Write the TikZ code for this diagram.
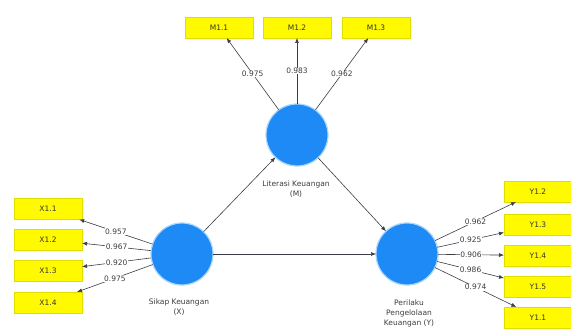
\documentclass[tikz,border=0pt]{standalone}
\usepackage{fontspec}
\setmainfont{DejaVu Sans}
\usetikzlibrary{arrows.meta,calc}
\definecolor{lvblue}{RGB}{30,138,245}
\definecolor{lvglow}{RGB}{170,215,255}
\definecolor{indyel}{RGB}{255,250,0}
\definecolor{indedge}{RGB}{225,220,0}
\definecolor{txtgray}{RGB}{60,60,60}
\definecolor{linegray}{RGB}{60,60,70}
\tikzset{
  latent/.style={circle,fill=lvblue,draw=lvglow,line width=1.2pt,minimum size=62pt,inner sep=0pt,outer sep=0pt},
  indbox/.style={rectangle,fill=indyel,draw=indedge,line width=0.5pt,minimum width=68pt,minimum height=21pt,inner sep=0pt,outer sep=0pt,font=\fontsize{7.5}{8}\selectfont,text=black!80},
  arr/.style={draw=linegray,line width=0.6pt,-{Latex[length=5pt,width=4pt]}},
  coef/.style={fill=white,inner sep=0.6pt,font=\fontsize{7.5}{8}\selectfont,text=txtgray,pos=0.5},
  lvlabel/.style={font=\fontsize{7.5}{10}\selectfont,text=txtgray,align=center}
}
\begin{document}
\begin{tikzpicture}[x=1pt,y=-1pt]
\useasboundingbox (0,0) rectangle (571,331);
% latent variables
\node[latent] (M) at (297,135) {};
\node[latent] (X) at (182,254) {};
\node[latent] (Y) at (407,254) {};
\node[lvlabel] (Mlab) at (296,189) {Literasi Keuangan\\(M)};
\node[lvlabel] (Xlab) at (179,307) {Sikap Keuangan\\(X)};
\node[lvlabel] (Ylab) at (409,313) {Perilaku\\Pengelolaan\\Keuangan (Y)};
% indicator boxes
\node[indbox] (m11) at (219,27.5) {M1.1};
\node[indbox] (m12) at (297,27.5) {M1.2};
\node[indbox] (m13) at (376,27.5) {M1.3};
\node[indbox] (x11) at (48,209) {X1.1};
\node[indbox] (x12) at (48,239.5) {X1.2};
\node[indbox] (x13) at (48,271) {X1.3};
\node[indbox] (x14) at (48,302.5) {X1.4};
\node[indbox] (y12) at (538,191.5) {Y1.2};
\node[indbox] (y13) at (538,225) {Y1.3};
\node[indbox] (y14) at (538,255.5) {Y1.4};
\node[indbox] (y15) at (538,286.5) {Y1.5};
\node[indbox] (y11) at (538,317.5) {Y1.1};
% outer loadings
\draw[arr] (M) -- node[coef] {0.975} (m11);
\draw[arr] (M) -- node[coef] {0.983} (m12);
\draw[arr] (M) -- node[coef] {0.962} (m13);
\draw[arr] (X) -- node[coef] {0.957} (x11);
\draw[arr] (X) -- node[coef] {0.967} (x12);
\draw[arr] (X) -- node[coef] {0.920} (x13);
\draw[arr] (X) -- node[coef] {0.975} (x14);
\draw[arr] (Y) -- node[coef] {0.962} (y12);
\draw[arr] (Y) -- node[coef] {0.925} (y13);
\draw[arr] (Y) -- node[coef] {0.906} (y14);
\draw[arr] (Y) -- node[coef] {0.986} (y15);
\draw[arr] (Y) -- node[coef] {0.974} (y11);
% structural paths
\draw[arr] (X) -- (M);
\draw[arr] (X) -- (Y);
\draw[arr] (M) -- (Y);
\end{tikzpicture}
\end{document}
